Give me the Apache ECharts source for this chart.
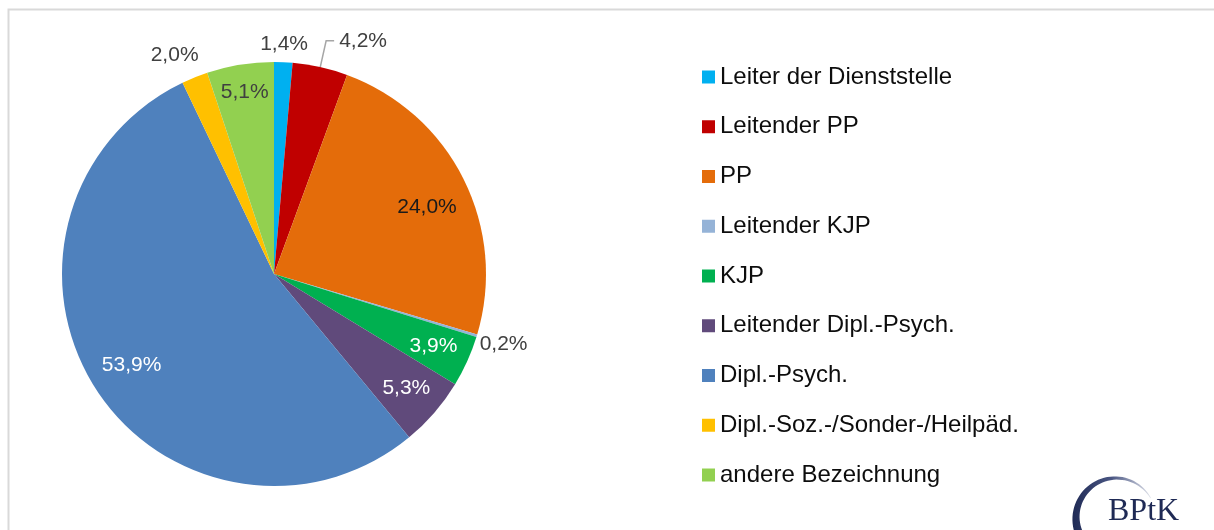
<!DOCTYPE html>
<html>
<head>
<meta charset="utf-8">
<script src="https://cdn.jsdelivr.net/npm/echarts@6/dist/echarts.min.js"></script>
<style>
  html, body { margin: 0; padding: 0; background: #fff; }
  #chart { width: 1214px; height: 530px; }
</style>
</head>
<body>
<div id="chart"></div>
<script>
// Daten (Anteile in %)
const categories = [
  "Leiter der Dienststelle",
  "Leitender PP",
  "PP",
  "Leitender KJP",
  "KJP",
  "Leitender Dipl.-Psych.",
  "Dipl.-Psych.",
  "Dipl.-Soz.-/Sonder-/Heilpäd.",
  "andere Bezeichnung"
];
const shares = [1.4, 4.2, 24.0, 0.2, 3.9, 5.3, 53.9, 2.0, 5.1];
const palette = ["#00B0F0", "#C00000", "#E46C0A", "#95B3D7", "#00B050", "#604A7B", "#4F81BD", "#FFC000", "#92D050"];

// welche Beschriftung mit Führungslinie, welche weiß
const leaderIdx = [1];
const whiteLabelIdx = [4, 5, 6];

const FONT = '"Liberation Sans", Arial, sans-serif';
const CX = 274, CY = 274, R = 212;

const fmt = (v) => v.toFixed(1).replace(".", ",") + "%";

const labelColor = (i) => {
  if (whiteLabelIdx.includes(i)) return "#ffffff";
  if (i === 2) return "#1a1a1a";
  return "#404040";
};

// Hauptkreis
const mainData = categories.map((name, i) => ({
  name: name,
  value: shares[i],
  itemStyle: { color: palette[i] },
  label: { show: leaderIdx.includes(i), position: "outside", color: "#404040" },
  labelLine: { show: leaderIdx.includes(i) },
}));

// unsichtbare Ringe, die nur die Beschriftungen tragen
// (turn = kleine Drehung in Grad, wie Excel die Beschriftung leicht versetzt)
const labelRing = (idx, r0, r1, turn) => ({
  type: "pie",
  center: [CX, CY],
  radius: [r0, r1],
  startAngle: 90 - (turn || 0),
  clockwise: true,
  silent: true,
  legendHoverLink: false,
  avoidLabelOverlap: false,
  label: { fontSize: 21, fontFamily: FONT, formatter: (p) => fmt(p.value) },
  labelLine: { show: false },
  emphasis: { disabled: true },
  data: categories.map((name, i) => ({
    name: name,
    value: shares[i],
    itemStyle: { color: "rgba(0,0,0,0)" },
    label: { show: idx.includes(i), position: "inside", color: labelColor(i) },
  })),
});

// Logo-Bogen (Sichel)
const logoArc = () => {
  const cx = 1116, cy = 518, r = 40;
  const a0 = 160, a1 = 330, n = 40;
  const outer = [], inner = [];
  for (let k = 0; k <= n; k++) {
    const t = k / n;
    const a = ((a0 + (a1 - a0) * t) * Math.PI) / 180;
    const w = 8 * (1 - t) + 0.6 * t;
    outer.push([cx + (r + w / 2) * Math.cos(a), cy + (r + w / 2) * Math.sin(a)]);
    inner.push([cx + (r - w / 2) * Math.cos(a), cy + (r - w / 2) * Math.sin(a)]);
  }
  return outer.concat(inner.reverse());
};

const myChart = echarts.init(document.getElementById("chart"));

myChart.setOption({
  animation: false,
  textStyle: { fontFamily: FONT },
  graphic: [
    {
      type: "rect",
      shape: { x: 8.5, y: 9.5, width: 1230, height: 540 },
      style: { fill: "none", stroke: "#d9d9d9", lineWidth: 2 },
      silent: true,
    },
    {
      type: "polygon",
      shape: { points: logoArc() },
      style: {
        fill: {
          type: "linear", x: 0, y: 0, x2: 1, y2: 0,
          colorStops: [
            { offset: 0, color: "#1f2a55" },
            { offset: 0.5, color: "#4a5683" },
            { offset: 1, color: "#dfe2ea" },
          ],
        },
      },
      silent: true,
    },
    {
      type: "text",
      style: {
        x: 1108,
        y: 512,
        text: "BPtK",
        fill: "#1f2a55",
        verticalAlign: "middle",
        font: '32px "Liberation Serif", "DejaVu Serif", serif',
      },
      silent: true,
    },
  ],
  legend: {
    orient: "vertical",
    left: 697,
    top: 60,
    itemWidth: 13,
    itemHeight: 13,
    itemGap: 25.75,
    icon: "rect",
    selectedMode: false,
    textStyle: { fontSize: 24, lineHeight: 24, color: "#0d0d0d", fontFamily: FONT },
    data: categories.map((name, i) => ({ name: name, itemStyle: { color: palette[i] } })),
  },
  series: [
    {
      type: "pie",
      center: [CX, CY],
      radius: [0, R],
      startAngle: 90,
      clockwise: true,
      avoidLabelOverlap: false,
      label: {
        fontSize: 21,
        fontFamily: FONT,
        formatter: (p) => fmt(p.value),
        distanceToLabelLine: 5,
      },
      labelLine: {
        length: 27,
        length2: 8,
        lineStyle: { color: "#a6a6a6", width: 1.5 },
      },
      emphasis: { disabled: true },
      data: mainData,
    },
    labelRing([2], 116, R, 3),
    labelRing([6], 120, R),
    labelRing([4, 5], 132, R),
    labelRing([8], 150, R),
    labelRing([0], R, 242),
    labelRing([3], R, 262),
    labelRing([7], R, 262, -2.5),
  ],
});

window.addEventListener("resize", () => {
  myChart && myChart.resize();
});
</script>
</body>
</html>
